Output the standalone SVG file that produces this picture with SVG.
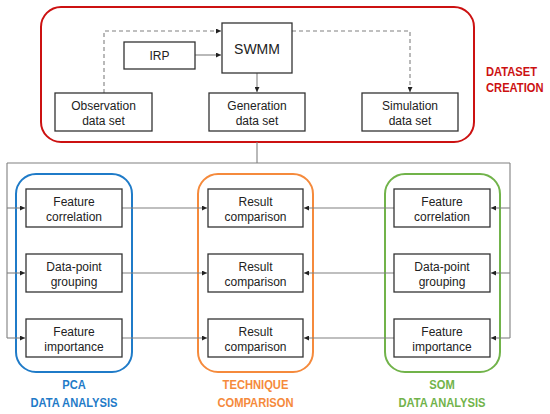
<svg xmlns="http://www.w3.org/2000/svg" width="550" height="414" viewBox="0 0 550 414">
<defs>
<marker id="ah" viewBox="0 0 10 10" refX="10" refY="5" markerWidth="5" markerHeight="5" orient="auto" markerUnits="userSpaceOnUse">
<path d="M0,0 L10,5 L0,10 z" fill="#222"/>
</marker>
</defs>
<style>
.box{fill:#fff;stroke:#333;stroke-width:1.3}
.t{font-family:"Liberation Sans",Arial,sans-serif;font-size:12px;fill:#222;text-anchor:middle}
.big{font-size:14px}
.lab{font-family:"Liberation Sans",Arial,sans-serif;font-size:13px;font-weight:bold;text-anchor:middle}
.con{fill:none;stroke:#808080;stroke-width:1.1}
.dash{fill:none;stroke:#808080;stroke-width:1.1;stroke-dasharray:4,3}
.cont{fill:none;stroke-width:2}
</style>
<rect x="0" y="0" width="550" height="414" fill="#fff"/>

<g id="containers">
<rect x="41" y="7" width="433" height="135" rx="20" class="cont" stroke="#CC1111"/>
<rect x="16" y="174" width="116" height="198" rx="20" class="cont" stroke="#1F7BC8"/>
<rect x="198" y="174" width="115" height="198" rx="20" class="cont" stroke="#F58A3C"/>
<rect x="385" y="174" width="115" height="198" rx="20" class="cont" stroke="#71B34A"/>
</g>

<g id="connectors">
<path class="dash" d="M104,93 V31 H221" marker-end="url(#ah)"/>
<path class="dash" d="M292,31 H410 V92" marker-end="url(#ah)"/>
<path class="con" d="M195,55 H221" marker-end="url(#ah)"/>
<path class="con" d="M257,73 V92" marker-end="url(#ah)"/>
<path class="con" d="M257,142 V163 M7,163 H510 M7,163 V338 M510,163 V338"/>
<path class="con" d="M7,208 H25" marker-end="url(#ah)"/>
<path class="con" d="M7,273 H25" marker-end="url(#ah)"/>
<path class="con" d="M7,338 H25" marker-end="url(#ah)"/>
<path class="con" d="M122,208 H207" marker-end="url(#ah)"/>
<path class="con" d="M122,273 H207" marker-end="url(#ah)"/>
<path class="con" d="M122,338 H207" marker-end="url(#ah)"/>
<path class="con" d="M394,208 H304" marker-end="url(#ah)"/>
<path class="con" d="M394,273 H304" marker-end="url(#ah)"/>
<path class="con" d="M394,338 H304" marker-end="url(#ah)"/>
<path class="con" d="M510,208 H491" marker-end="url(#ah)"/>
<path class="con" d="M510,273 H491" marker-end="url(#ah)"/>
<path class="con" d="M510,338 H491" marker-end="url(#ah)"/>
</g>

<g id="irp"><rect class="box" x="124" y="42" width="71" height="27"/><text class="t" x="159.5" y="59.5">IRP</text></g>
<g id="swmm"><rect class="box" x="222" y="23" width="70" height="50"/><text class="t big" x="257" y="54">SWMM</text></g>
<g id="observation"><rect class="box" x="55" y="93" width="97" height="38"/><text class="t" x="103.5" y="110">Observation</text><text class="t" x="103.5" y="125">data set</text></g>
<g id="generation"><rect class="box" x="209" y="93" width="96" height="38"/><text class="t" x="257" y="110">Generation</text><text class="t" x="257" y="125">data set</text></g>
<g id="simulation"><rect class="box" x="362" y="93" width="96" height="38"/><text class="t" x="410" y="110">Simulation</text><text class="t" x="410" y="125">data set</text></g>

<g id="pca1"><rect class="box" x="26" y="189" width="96" height="38"/><text class="t" x="74" y="206">Feature</text><text class="t" x="74" y="221">correlation</text></g>
<g id="pca2"><rect class="box" x="26" y="254" width="96" height="38"/><text class="t" x="74" y="271">Data-point</text><text class="t" x="74" y="286">grouping</text></g>
<g id="pca3"><rect class="box" x="26" y="319" width="96" height="38"/><text class="t" x="74" y="336">Feature</text><text class="t" x="74" y="351">importance</text></g>

<g id="cmp1"><rect class="box" x="208" y="189" width="95" height="38"/><text class="t" x="255.5" y="206">Result</text><text class="t" x="255.5" y="221">comparison</text></g>
<g id="cmp2"><rect class="box" x="208" y="254" width="95" height="38"/><text class="t" x="255.5" y="271">Result</text><text class="t" x="255.5" y="286">comparison</text></g>
<g id="cmp3"><rect class="box" x="208" y="319" width="95" height="38"/><text class="t" x="255.5" y="336">Result</text><text class="t" x="255.5" y="351">comparison</text></g>

<g id="som1"><rect class="box" x="394" y="189" width="96" height="38"/><text class="t" x="442" y="206">Feature</text><text class="t" x="442" y="221">correlation</text></g>
<g id="som2"><rect class="box" x="394" y="254" width="96" height="38"/><text class="t" x="442" y="271">Data-point</text><text class="t" x="442" y="286">grouping</text></g>
<g id="som3"><rect class="box" x="394" y="319" width="96" height="38"/><text class="t" x="442" y="336">Feature</text><text class="t" x="442" y="351">importance</text></g>

<g id="labels">
<text class="lab" transform="translate(486,76) scale(0.86,1)" fill="#CC1111" style="text-anchor:start">DATASET</text>
<text class="lab" transform="translate(486,92) scale(0.86,1)" fill="#CC1111" style="text-anchor:start">CREATION</text>
<text class="lab" transform="translate(74,389) scale(0.86,1)" fill="#1F7BC8">PCA</text>
<text class="lab" transform="translate(74,407) scale(0.86,1)" fill="#1F7BC8">DATA ANALYSIS</text>
<text class="lab" transform="translate(255.5,389) scale(0.86,1)" fill="#F58A3C">TECHNIQUE</text>
<text class="lab" transform="translate(255.5,407) scale(0.86,1)" fill="#F58A3C">COMPARISON</text>
<text class="lab" transform="translate(442,389) scale(0.86,1)" fill="#71B34A">SOM</text>
<text class="lab" transform="translate(442,407) scale(0.86,1)" fill="#71B34A">DATA ANALYSIS</text>
</g>
</svg>
